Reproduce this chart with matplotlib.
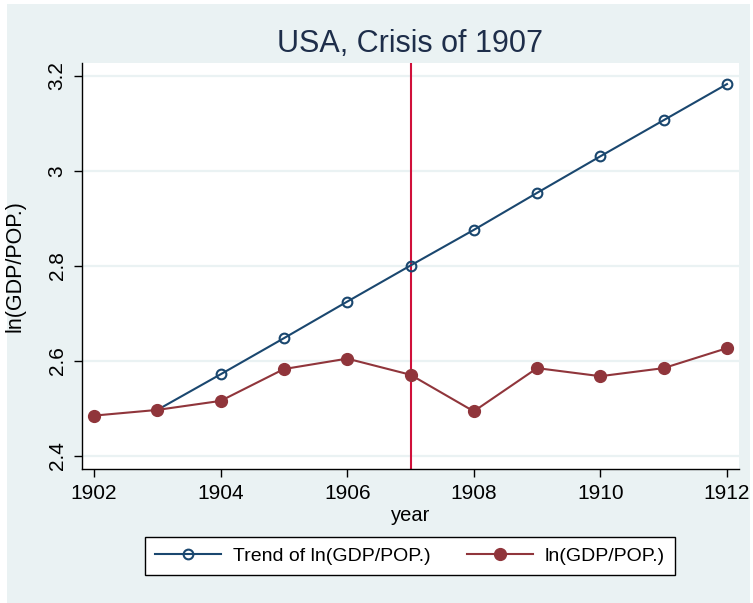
import matplotlib
matplotlib.use('Agg')
import matplotlib.pyplot as plt
from matplotlib.patches import Rectangle

# --- Data ---
years = [1902, 1903, 1904, 1905, 1906, 1907, 1908, 1909, 1910, 1911, 1912]
trend_years = [1903, 1904, 1905, 1906, 1907, 1908, 1909, 1910, 1911, 1912]
trend = [2.497, 2.572, 2.648, 2.725, 2.801, 2.876, 2.954, 3.031, 3.107, 3.183]
actual = [2.485, 2.497, 2.516, 2.583, 2.605, 2.571, 2.494, 2.585, 2.568, 2.585, 2.627]
crisis_year = 1907
x_ticks = [1902, 1904, 1906, 1908, 1910, 1912]
y_ticks = [2.4, 2.6, 2.8, 3.0, 3.2]
y_ticklabels = ["2.4", "2.6", "2.8", "3", "3.2"]

# --- Style ---
COLOR_TREND = "#1A476F"
COLOR_ACTUAL = "#90353B"
COLOR_CRISIS = "#D0103A"
COLOR_BG = "#EAF2F3"
COLOR_TITLE = "#1E2E4A"

plt.rcParams['font.family'] = ['Liberation Sans', 'DejaVu Sans']

W, H = 753, 603
fig = plt.figure(figsize=(W / 100, H / 100), dpi=100, facecolor='white')
# outer graph region (light blue-grey), drawn below the axes
fig.add_artist(Rectangle((7 / W, 0), (750 - 7) / W, (603 - 4) / H,
                         transform=fig.transFigure, facecolor=COLOR_BG,
                         edgecolor='none', zorder=-5))

ax = fig.add_axes([82 / W, 1 - 469 / H, (739 - 82) / W, (469 - 63) / H])
ax.set_facecolor('white')

ax.plot(trend_years, trend, color=COLOR_TREND, lw=1.5, marker='o', ms=7,
        mfc='none', mew=1.5, label='Trend of ln(GDP/POP.)', zorder=3)
ax.plot(years, actual, color=COLOR_ACTUAL, lw=1.5, marker='o', ms=8.5,
        mfc=COLOR_ACTUAL, mec=COLOR_ACTUAL, label='ln(GDP/POP.)', zorder=4)
ax.axvline(crisis_year, color=COLOR_CRISIS, lw=1.5, zorder=2)

ax.set_xlim(1901.81, 1912.19)
ax.set_ylim(2.3726, 3.2274)
ax.set_xticks(x_ticks)
ax.set_xticklabels([str(t) for t in x_ticks], fontsize=15)
ax.set_yticks(y_ticks)
ax.set_yticklabels(y_ticklabels, fontsize=15, rotation=90, va='center')
ax.tick_params(direction='out', length=6, width=1, colors='black', pad=5)
ax.grid(axis='y', color=COLOR_BG, lw=1.6, zorder=0)
ax.set_axisbelow(True)

for side in ['top', 'right']:
    ax.spines[side].set_visible(False)
for side in ['left', 'bottom']:
    ax.spines[side].set_linewidth(1)
    ax.spines[side].set_color('black')

ax.set_xlabel("year", fontsize=14.5, labelpad=2)
ax.set_ylabel("ln(GDP/POP.)", fontsize=15.5, labelpad=16)

fig.text(410 / W, 1 - 44 / H, "USA, Crisis of 1907", ha='center', va='center',
         fontsize=22, color=COLOR_TITLE)

leg = fig.legend(loc='center', bbox_to_anchor=(410 / W, 1 - 556 / H), ncol=2,
                 fontsize=14, frameon=True, fancybox=False, edgecolor='black',
                 framealpha=1, handlelength=3.4, columnspacing=1.9,
                 borderpad=0.5, handletextpad=0.6)
leg.get_frame().set_linewidth(1)
leg.get_frame().set_facecolor('white')

fig.savefig("out.png", dpi=100, facecolor='white')
